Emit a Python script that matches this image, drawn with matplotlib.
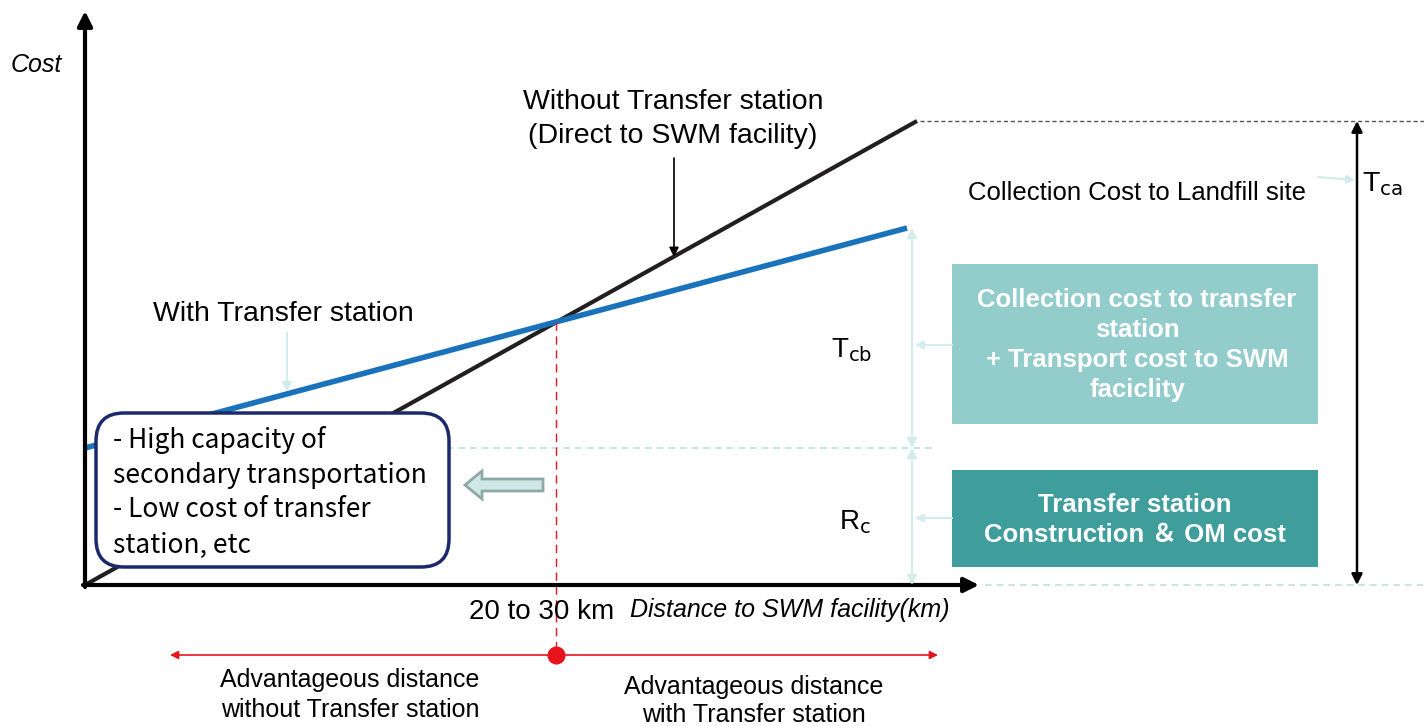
import matplotlib.pyplot as plt
from matplotlib.patches import FancyBboxPatch, FancyArrow, Rectangle

# ----------------------------------------------------------------------
# Conceptual cost curves (diagram units: 1 unit = 1 px, origin at the axes corner)
# ----------------------------------------------------------------------
dist_direct = [0, 832]      # without transfer station
cost_direct = [0, 464]
dist_transfer = [0, 822]    # with transfer station
cost_transfer = [137, 357]
breakeven_dist = 471
breakeven_cost = 263
rc_level = 137              # transfer station construction & OM cost
tca_level = 464             # collection cost to landfill site
tcb_top = 357

plt.rcParams['font.family'] = ['Liberation Sans', 'DejaVu Sans']

fig = plt.figure(figsize=(14.24, 7.26), dpi=100)
ax = fig.add_axes([0, 0, 1, 1])
ax.set_xlim(-85, 1339)
ax.set_ylim(-141, 585)
ax.axis('off')

LIGHT = '#d3ecec'
RED = '#e8141c'


def arrow(xy, xytext, style='-|>', color='black', lw=1.2, ms=15, z=3):
    ax.annotate('', xy=xy, xytext=xytext,
                arrowprops=dict(arrowstyle=style, color=color, lw=lw,
                                mutation_scale=ms, shrinkA=0, shrinkB=0),
                zorder=z)


# ---- axes ----
arrow((0, 574), (0, -2), lw=3, ms=22)
arrow((894, 0), (-2, 0), lw=3, ms=22)
ax.text(-49, 520, 'Cost', fontsize=18, style='italic', ha='center', va='center')
ax.text(457, -27, '20 to 30 km', fontsize=20, ha='center', va='center')
ax.text(545, -25, 'Distance to SWM facility(km)', fontsize=18, style='italic',
        ha='left', va='center')

# ---- reference dashed lines ----
ax.plot([835, 1339], [tca_level, tca_level], ls=(0, (3, 2)), color='#555555', lw=1, zorder=1)
ax.plot([0, 850], [rc_level, rc_level], ls=(0, (4, 3)), color='#bfe0e0', lw=1.2, zorder=1)
ax.plot([900, 1339], [0, 0], ls=(0, (4, 3)), color='#bfe0e0', lw=1.2, zorder=1)

# ---- cost curves ----
ax.plot(dist_direct, cost_direct, color='#231f20', lw=3, zorder=2, solid_capstyle='butt')
ax.plot(dist_transfer, cost_transfer, color='#1a72bb', lw=4, zorder=2, solid_capstyle='butt')

# ---- break-even marker ----
ax.plot([breakeven_dist, breakeven_dist], [breakeven_cost, -70], color=RED,
        lw=1, ls=(0, (6, 4)), zorder=2)
arrow((853, -70), (85, -70), style='<|-|>', color=RED, lw=1.2, ms=12)
ax.plot([breakeven_dist], [-70], 'o', color=RED, ms=12, zorder=4)
ax.text(265, -110, 'Advantageous distance\nwithout Transfer station', fontsize=18,
        ha='center', va='center', linespacing=1.28)
ax.text(669, -116, 'Advantageous distance\nwith Transfer station', fontsize=18,
        ha='center', va='center', linespacing=1.16)

# ---- curve labels ----
ax.text(588, 466, 'Without Transfer station\n(Direct to SWM facility)', fontsize=20.5,
        ha='center', va='center', linespacing=1.4)
arrow((589, 328), (589, 427), lw=1.2, ms=14)
ax.text(198, 271, 'With Transfer station', fontsize=20.5, ha='center', va='center')
arrow((202, 193), (202, 252), color=LIGHT, lw=1.5, ms=14)

# ---- right-hand cost breakdown ----
arrow((1272, tca_level), (1272, 0), style='<|-|>', lw=1.8, ms=16)
ax.text(1277, 401, r'T$_{\mathrm{ca}}$', fontsize=20.5, ha='left', va='center')
arrow((1270, 405), (1233, 408), color=LIGHT, lw=1.5, ms=12)
ax.text(1052, 392, 'Collection Cost to Landfill site', fontsize=18.5, ha='center', va='center')

arrow((827, tcb_top), (827, rc_level), style='<|-|>', color=LIGHT, lw=1.5, ms=14)
arrow((827, rc_level), (827, 0), style='<|-|>', color=LIGHT, lw=1.5, ms=14)
ax.text(767, 235, r'T$_{\mathrm{cb}}$', fontsize=20, ha='center', va='center')
ax.text(770, 63, r'R$_{\mathrm{c}}$', fontsize=20, ha='center', va='center')
arrow((830, 240), (867, 240), color=LIGHT, lw=1.5, ms=12)
arrow((830, 67), (867, 67), color=LIGHT, lw=1.5, ms=12)

ax.add_patch(Rectangle((867, 161), 366, 160, fc='#92cccb', ec='none', zorder=2))
ax.text(1052, 240, 'Collection cost to transfer\nstation\n+ Transport cost to SWM\nfaciclity',
        fontsize=18.5, fontweight='bold', color='white', ha='center', va='center',
        linespacing=1.33, zorder=3)
ax.add_patch(Rectangle((867, 18), 366, 97, fc='#3f9e9c', ec='none', zorder=2))
ax.text(1050, 65, 'Transfer station\nConstruction \uff06 OM cost', fontsize=18.5,
        fontweight='bold', color='white', ha='center', va='center',
        linespacing=1.32, zorder=3, family=['Liberation Sans', 'Noto Sans CJK JP'])

# ---- explanatory rounded box ----
ax.add_patch(FancyBboxPatch((11, 18), 353, 154,
                            boxstyle='round,pad=0,rounding_size=28',
                            ec='#1c2a6b', fc='white', lw=2.5, zorder=5))
ax.text(28, 93, '- High capacity of\nsecondary transportation\n- Low cost of transfer\nstation, etc',
        fontsize=19, ha='left', va='center', linespacing=1.38, zorder=6,
        family=['Noto Sans CJK JP', 'DejaVu Sans'])
ax.add_patch(FancyArrow(458, 100, -78, 0, width=12, head_width=28, head_length=17,
                        length_includes_head=True, fc='#cfe8e6', ec='#8fa9a7',
                        lw=2, zorder=4))

fig.savefig('out.png', dpi=100)
